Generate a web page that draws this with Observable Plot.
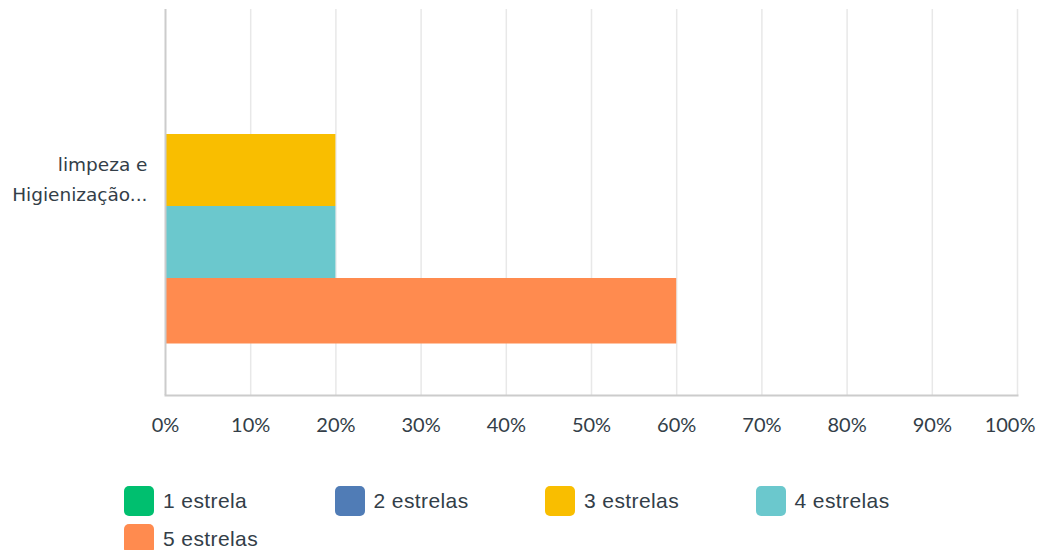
<!DOCTYPE html>
<html>
<head>
<meta charset="utf-8">
<script src="https://cdn.jsdelivr.net/npm/d3@7"></script>
<script src="https://cdn.jsdelivr.net/npm/@observablehq/plot@0.6"></script>
<style>
  body { margin: 0; background: #fff; }
  #legend { display: flex; flex-wrap: wrap; width: 964px; padding-left: 124px; margin-top: 26px; row-gap: 8px;
    font-family: "Liberation Sans", Arial, sans-serif; font-size: 21px; letter-spacing: 0.4px; color: #333e48; }
  .item { width: 210.5px; display: flex; align-items: center; height: 30px; }
  .sw { width: 30px; height: 30px; border-radius: 5px; margin-right: 9px; flex: none; }
</style>
</head>
<body>
<div id="chart"></div>
<div id="legend"></div>
<script>
const category = "limpeza e\nHigienização...";
const series = ["1 estrela", "2 estrelas", "3 estrelas", "4 estrelas", "5 estrelas"];
const values = [0, 0, 20, 20, 60];
const colors = ["#00bf6f", "#507cb6", "#f9be00", "#6bc8cd", "#ff8b4f"];
const xTicks = [0, 10, 20, 30, 40, 50, 60, 70, 80, 90, 100];

const data = series.map((s, i) => ({series: s, value: values[i], category}));
const last = series[series.length - 1];
const tickFont = "Lato, 'Liberation Sans', sans-serif";

const W = 1037, H = 460;
const chart = Plot.plot({
  width: W,
  height: H,
  marginLeft: 165,
  marginRight: 20,
  marginTop: 9,
  marginBottom: H - 395,
  style: {fontFamily: tickFont, background: "#fff", overflow: "visible"},
  x: {domain: [0, 100], ticks: xTicks, axis: null, label: null},
  y: {domain: series, range: [-11, 351.5], padding: 0, axis: null, label: null},
  color: {domain: series, range: colors},
  marks: [
    Plot.ruleX(xTicks.slice(1), {stroke: "#e8e8e8", strokeWidth: 1.5}),
    Plot.barX(data.filter(d => d.series !== last), {x: "value", y: "series", fill: "series"}),
    Plot.barX(data.filter(d => d.series === last), {x: "value", y: "series", fill: "series", insetBottom: 6.5}),
    Plot.ruleX([0], {stroke: "#cccccc", strokeWidth: 2}),
    Plot.frame({anchor: "bottom", stroke: "#cccccc", strokeWidth: 2}),
    Plot.axisX(xTicks.slice(0, -1), {tickSize: 0, tickPadding: 22, tickFormat: d => d + "%", label: null,
      fontSize: 20, fill: "#333e48", fontFamily: tickFont}),
    Plot.axisX(xTicks.slice(-1), {tickSize: 0, tickPadding: 22, tickFormat: d => d + "%", label: null,
      textAnchor: "end", dx: 18, fontSize: 20, fill: "#333e48", fontFamily: tickFont}),
    Plot.text([category], {text: d => d, frameAnchor: "left", textAnchor: "end", dx: -18, dy: -26,
      lineHeight: 1.62, fontSize: 18.5, fill: "#333e48", fontFamily: "'DejaVu Sans', sans-serif"})
  ]
});
document.getElementById("chart").append(chart);

const legend = document.getElementById("legend");
series.forEach((s, i) => {
  const it = document.createElement("div");
  it.className = "item";
  it.innerHTML = `<span class="sw" style="background:${colors[i]}"></span><span>${s}</span>`;
  legend.append(it);
});
</script>
</body>
</html>
